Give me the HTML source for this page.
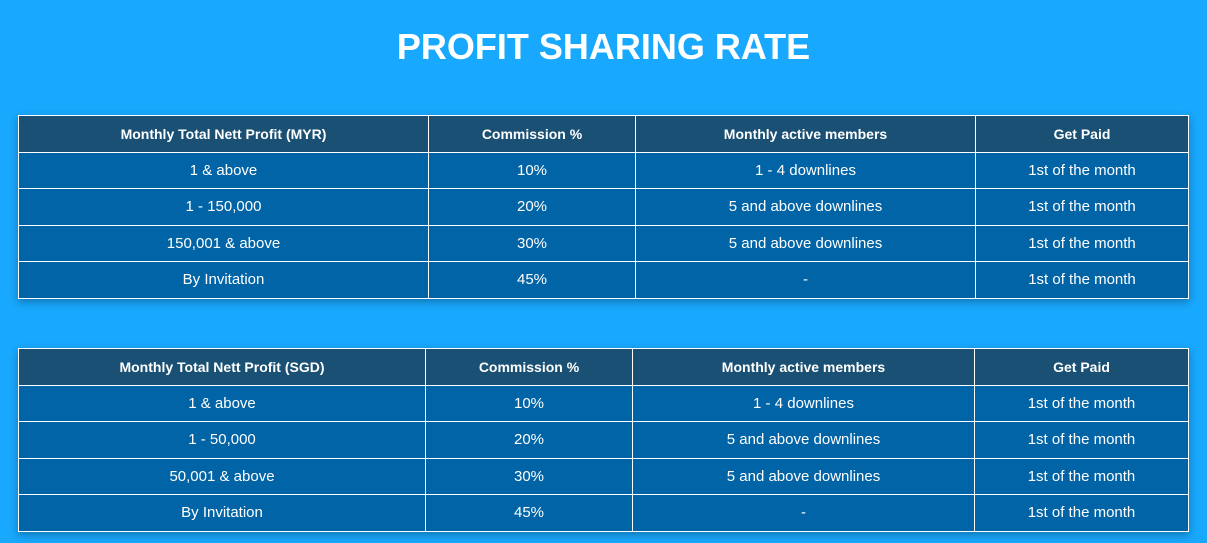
<!DOCTYPE html>
<html><head><style>
body{margin:0;width:1207px;height:543px;background:#18a8fd;font-family:"Liberation Sans",sans-serif;overflow:hidden;position:relative}
h1{position:absolute;top:25px;left:0;width:1207px;margin:0;text-align:center;color:#fff;font-size:36px;font-weight:bold;line-height:44px}
table{position:absolute;left:18px;width:1171px;border-collapse:collapse;box-shadow:0 3px 8px rgba(0,0,0,.3);table-layout:fixed}
td,th{border:1px solid #fff;color:#fff;text-align:center;font-size:15px;padding:0;height:35.5px}
th{background:#1a5073;font-size:14px;font-weight:bold}
td{background:#0064a6}
</style></head><body>
<h1>PROFIT SHARING RATE</h1>
<table style="top:115px"><colgroup><col style="width:410px"><col style="width:207px"><col style="width:340px"><col></colgroup>
<tr><th>Monthly Total Nett Profit (MYR)</th><th>Commission %</th><th>Monthly active members</th><th>Get Paid</th></tr>
<tr><td>1 &amp; above</td><td>10%</td><td>1 - 4 downlines</td><td>1st of the month</td></tr>
<tr><td>1 - 150,000</td><td>20%</td><td>5 and above downlines</td><td>1st of the month</td></tr>
<tr><td>150,001 &amp; above</td><td>30%</td><td>5 and above downlines</td><td>1st of the month</td></tr>
<tr><td>By Invitation</td><td>45%</td><td>-</td><td>1st of the month</td></tr>
</table>
<table style="top:348px"><colgroup><col style="width:407px"><col style="width:207px"><col style="width:342px"><col></colgroup>
<tr><th>Monthly Total Nett Profit (SGD)</th><th>Commission %</th><th>Monthly active members</th><th>Get Paid</th></tr>
<tr><td>1 &amp; above</td><td>10%</td><td>1 - 4 downlines</td><td>1st of the month</td></tr>
<tr><td>1 - 50,000</td><td>20%</td><td>5 and above downlines</td><td>1st of the month</td></tr>
<tr><td>50,001 &amp; above</td><td>30%</td><td>5 and above downlines</td><td>1st of the month</td></tr>
<tr><td>By Invitation</td><td>45%</td><td>-</td><td>1st of the month</td></tr>
</table>
</body></html>
